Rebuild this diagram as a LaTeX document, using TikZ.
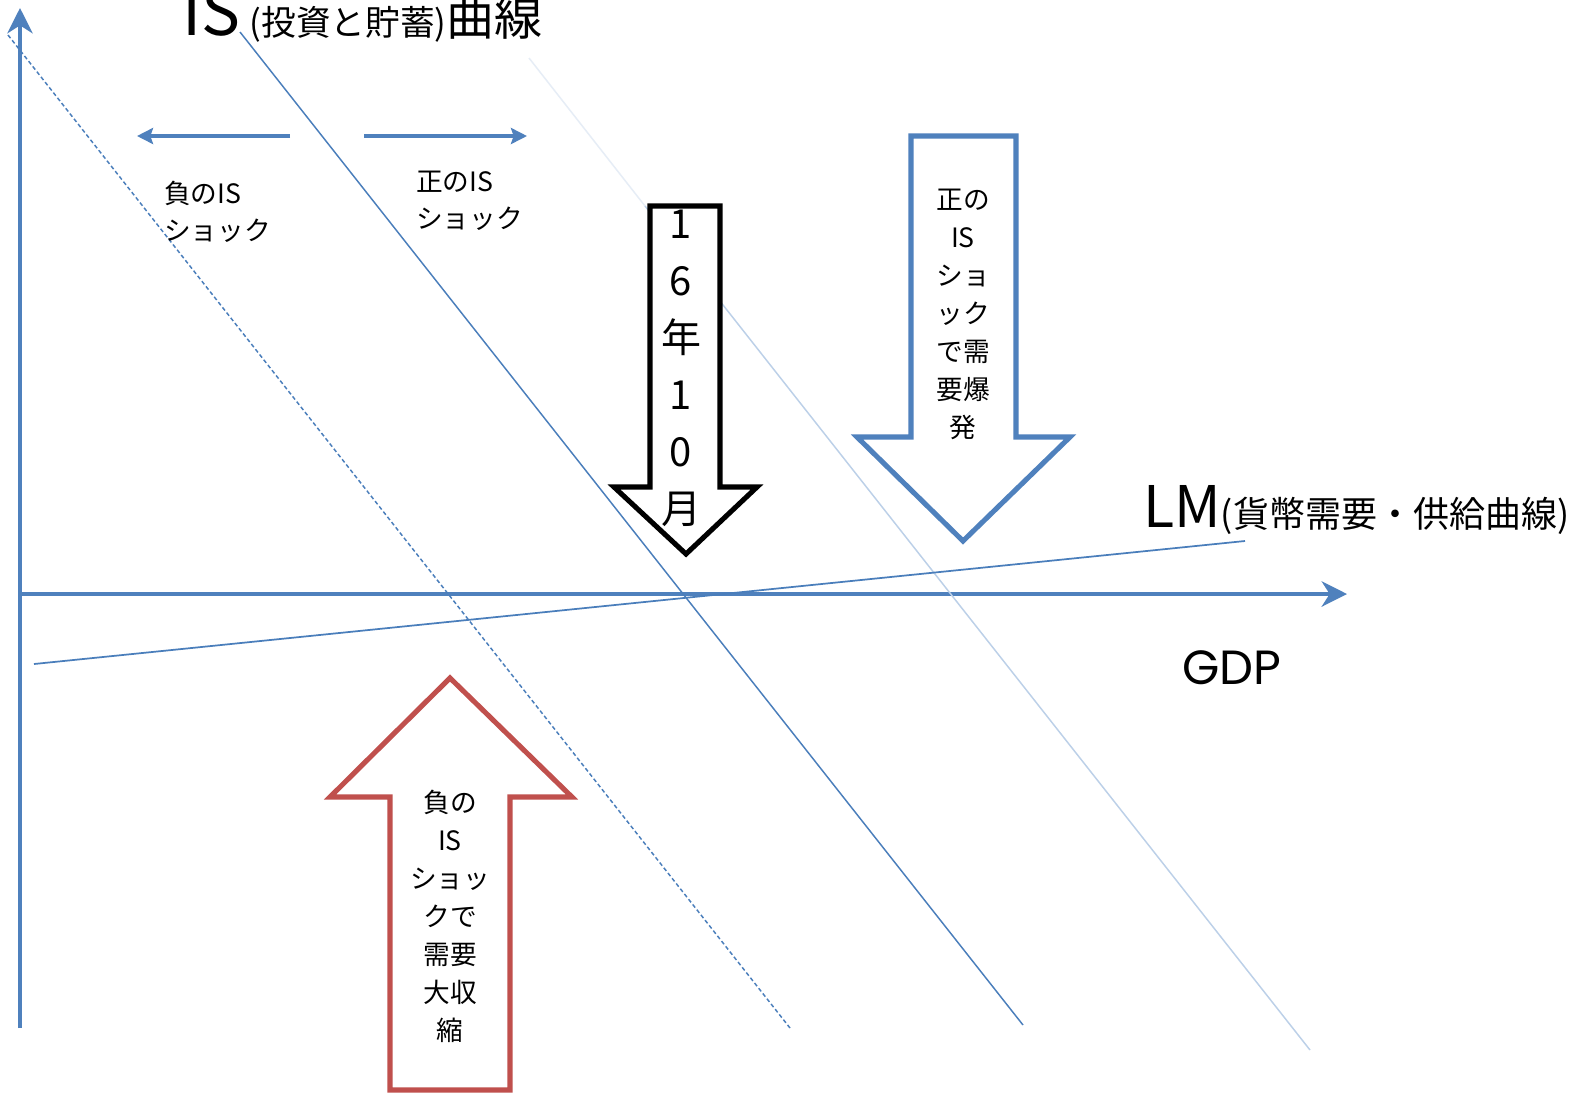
\documentclass[tikz,border=0pt]{standalone}
\usepackage{fontspec}
\setmainfont{Noto Sans CJK JP}
\newfontfamily\gdpfont{Poppins}
\usetikzlibrary{arrows.meta}
\definecolor{axisblue}{HTML}{4F81BD}
\definecolor{lineblue}{HTML}{4A7EBB}
\definecolor{lightblue}{HTML}{BCD0E8}
\definecolor{faintblue}{HTML}{E6EDF6}
\definecolor{shockred}{HTML}{C0504D}
\begin{document}
\begin{tikzpicture}[x=0.75pt,y=-0.75pt,
  axisline/.style={axisblue, line width=3pt, -{Stealth[length=19pt,width=19pt,inset=6pt]}},
  shiftarrow/.style={axisblue, line width=3.5pt, -{Stealth[length=12pt,width=12pt,inset=2pt]}},
  curve/.style={lineblue, line width=1.1pt},
  bigarrow/.style={line width=3.8pt, line join=miter},
  lbl/.style={inner sep=0pt, font=\fontsize{20}{28}\selectfont},
  vlbl/.style={inner sep=0pt, align=center, font=\fontsize{20}{28.5}\selectfont}
]
\useasboundingbox (0,0) rectangle (1574,1097);
\fill[white] (0,0) rectangle (1574,1097);

% axes
\coordinate (ybot) at (20,1028);
\coordinate (ytop) at (20,8);
\coordinate (xleft) at (20,594);
\coordinate (xright) at (1347,594);
\draw[axisline] (ybot) -- (ytop);
\draw[axisline] (xleft) -- (xright);

% IS curves
\coordinate (dashA) at (8,35);
\coordinate (dashB) at (790,1028);
\draw[curve, dash pattern=on 3pt off 2pt] (dashA) -- (dashB);
\coordinate (isA) at (240,32);
\coordinate (isB) at (1023,1025);
\draw[curve] (isA) -- (isB);
\coordinate (ltA) at (529,58);
\coordinate (ltM) at (645,206);
\coordinate (ltB) at (1310,1050);
\draw[faintblue, line width=1.1pt] (ltA) -- (ltM);
\draw[lightblue, line width=1.1pt] (ltM) -- (ltB);

% LM curve
\coordinate (lmA) at (34,664);
\coordinate (lmB) at (1245,541);
\draw[lineblue, line width=1.3pt] (lmA) -- (lmB);

% shift arrows
\coordinate (lsA) at (290,136);
\coordinate (lsB) at (137,136);
\coordinate (rsA) at (364,136);
\coordinate (rsB) at (527,136);
\draw[shiftarrow] (lsA) -- (lsB);
\draw[shiftarrow] (rsA) -- (rsB);

\node[lbl, anchor=west, align=left] (negtop) at (164,212) {負のIS\\ショック};
\node[lbl, anchor=west, align=left] (postop) at (416,201) {正のIS\\ショック};

% title
\node[inner sep=0pt, anchor=base west] (title) at (182,35)
  {{\fontsize{49}{49}\selectfont IS}\hspace{7pt}{\fontsize{26}{26}\selectfont (投資と貯蓄)}{\fontsize{36}{36}\selectfont 曲線}};

% LM label
\node[inner sep=0pt, anchor=base west] (lmlabel) at (1143,527)
  {{\fontsize{43}{43}\selectfont LM}{\fontsize{27}{27}\selectfont (貨幣需要・供給曲線)}};

% GDP
\node[inner sep=0pt, anchor=base west, font=\gdpfont\fontsize{36}{36}\selectfont] (gdp) at (1182,684) {GDP};

% black arrow
\draw[bigarrow, draw=black, fill=white] (650,206) -- (720,206) -- (720,487) -- (757,487) -- (686,554) -- (614,487) -- (650,487) -- cycle;
\node[inner sep=0pt, align=center, font=\fontsize{30}{42.75}\selectfont] (date) at (681,368) {1\\6\\年\\1\\0\\月};

% blue arrow
\draw[bigarrow, draw=axisblue, fill=white] (911,136) -- (1016,136) -- (1016,437) -- (1070,437) -- (963,541) -- (857,437) -- (911,437) -- cycle;
\node[vlbl] (posbig) at (963,314) {正の\\IS\\ショ\\ック\\で需\\要爆\\発};

% red arrow
\draw[bigarrow, draw=shockred, fill=white] (450,678) -- (572,797) -- (510,797) -- (510,1090) -- (390,1090) -- (390,797) -- (330,797) -- cycle;
\node[vlbl] (negbig) at (450,916) {負の\\IS\\ショッ\\クで\\需要\\大収\\縮};
\end{tikzpicture}
\end{document}
